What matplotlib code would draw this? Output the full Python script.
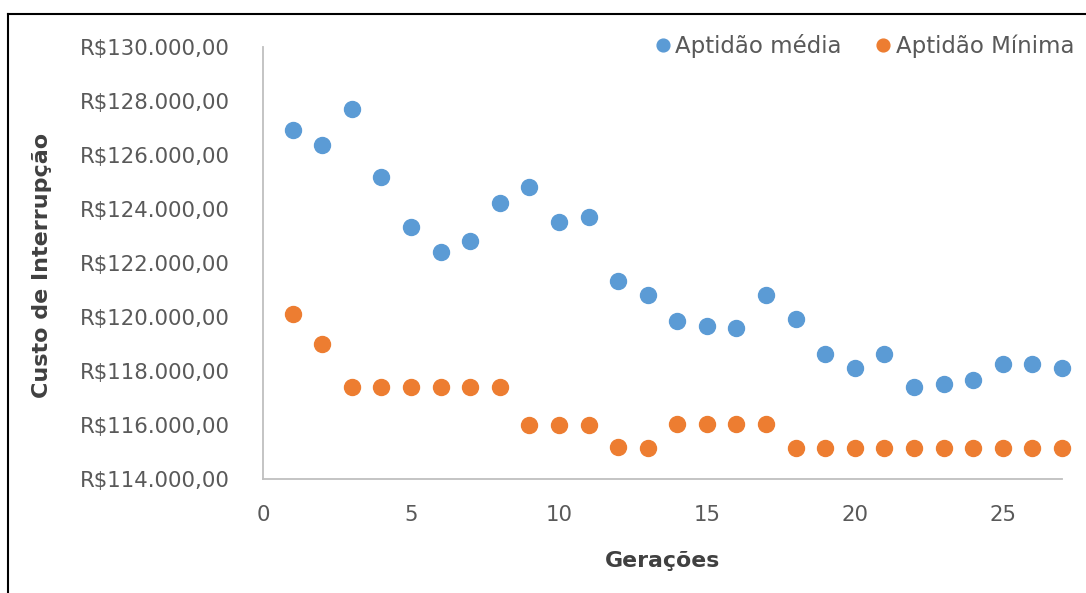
import matplotlib
matplotlib.use("Agg")
import matplotlib.pyplot as plt
from matplotlib.ticker import FuncFormatter, MultipleLocator
from matplotlib.lines import Line2D

geracoes = list(range(1, 28))
aptidao_media = [126900, 126370, 127680, 125160, 123340, 122390, 122810, 124210, 124810,
                 123510, 123690, 121340, 120800, 119850, 119670, 119580, 120800, 119910,
                 118630, 118110, 118630, 117410, 117500, 117670, 118270, 118270, 118110]
aptidao_minima = [120090, 118980, 117400, 117400, 117400, 117400, 117400, 117400, 116010,
                  116010, 116010, 115190, 115130, 116020, 116020, 116020, 116020, 115130,
                  115130, 115130, 115130, 115130, 115130, 115130, 115130, 115130, 115130]
legend_labels = ["Aptidão média", "Aptidão Mínima"]

W, H = 1086, 593
fig = plt.figure(figsize=(W / 100, H / 100), dpi=100)
fig.patch.set_facecolor("white")
x0, x1, y0, y1 = 263, 1062, 46.7, 479
aw, ah = x1 - x0, y1 - y0
ax = fig.add_axes([x0 / W, 1 - y1 / H, aw / W, ah / H])

font = "DejaVu Sans"
ax.plot(geracoes, aptidao_media, "o", color="#5B9BD5", markersize=11.5, label=legend_labels[0], clip_on=False)
ax.plot(geracoes, aptidao_minima, "o", color="#ED7D31", markersize=11.5, label=legend_labels[1], clip_on=False)

ax.set_xlim(0, 27)
ax.set_ylim(114000, 130000)
ax.xaxis.set_major_locator(MultipleLocator(5))
ax.yaxis.set_major_locator(MultipleLocator(2000))
ax.yaxis.set_major_formatter(FuncFormatter(lambda v, p: "R$" + f"{int(round(v)):,}".replace(",", ".") + ",00"))

for s in ["top", "right"]:
    ax.spines[s].set_visible(False)
for s in ["left", "bottom"]:
    ax.spines[s].set_color("#BFBFBF")
    ax.spines[s].set_linewidth(1.3)

ax.tick_params(axis="both", length=0, colors="#595959", labelsize=15.3)
ax.tick_params(axis="y", pad=24)
ax.tick_params(axis="x", pad=19)
for lab in ax.get_xticklabels() + ax.get_yticklabels():
    lab.set_fontfamily(font)

ax.set_ylabel("Custo de Interrupção", fontsize=16, fontweight="bold", color="#404040", family=font)
ax.yaxis.set_label_coords((52 - x0) / aw, (y1 - 265) / ah)
ax.set_xlabel("Gerações", fontsize=15.8, fontweight="bold", color="#404040", family=font)
ax.xaxis.set_label_coords((662 - x0) / aw, -(551 - y1) / ah)

leg = fig.legend(loc="center right", bbox_to_anchor=(1074 / W, 1 - 46 / H),
                 ncol=2, frameon=False, handletextpad=0.05, columnspacing=1.35, handlelength=0.95,
                 prop={"family": font, "size": 16.5}, markerscale=0.8, borderaxespad=0, borderpad=0)
for t in leg.get_texts():
    t.set_color("#595959")

# outer frame (top and left edges visible)
fig.add_artist(Line2D([8 / W, 1.0], [1 - 14 / H, 1 - 14 / H], transform=fig.transFigure, color="black", linewidth=1.5))
fig.add_artist(Line2D([8 / W, 8 / W], [0, 1 - 14 / H], transform=fig.transFigure, color="black", linewidth=1.5))

fig.savefig("out.png", dpi=100)
